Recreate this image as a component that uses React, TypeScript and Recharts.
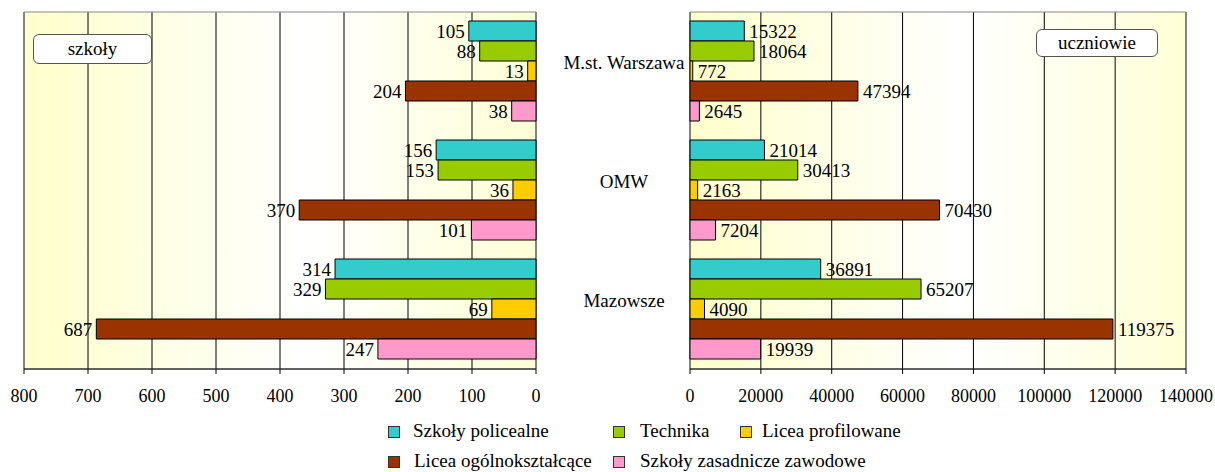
import { BarChart, Bar, XAxis, YAxis, CartesianGrid, LabelList, ReferenceArea } from "recharts";

const categories = ["M.st. Warszawa", "OMW", "Mazowsze"];

// szkoły
const schoolsPolicealne = [105, 156, 314];
const schoolsTechnika = [88, 153, 329];
const schoolsProfilowane = [13, 36, 69];
const schoolsOgolno = [204, 370, 687];
const schoolsZasadnicze = [38, 101, 247];

// uczniowie
const studentsPolicealne = [15322, 21014, 36891];
const studentsTechnika = [18064, 30413, 65207];
const studentsProfilowane = [772, 2163, 4090];
const studentsOgolno = [47394, 70430, 119375];
const studentsZasadnicze = [2645, 7204, 19939];

const schoolTicks = [0, 100, 200, 300, 400, 500, 600, 700, 800];
const studentTicks = [0, 20000, 40000, 60000, 80000, 100000, 120000, 140000];

const seriesNames = [
  "Szkoły policealne",
  "Technika",
  "Licea profilowane",
  "Licea ogólnokształcące",
  "Szkoły zasadnicze zawodowe",
];
const seriesKeys = ["policealne", "technika", "profilowane", "ogolno", "zasadnicze"];
const seriesColors = ["#33CCCC", "#99CC00", "#FFCC00", "#993300", "#FF99CC"];

const schoolsData = categories.map((name, i) => ({
  name,
  policealne: schoolsPolicealne[i],
  technika: schoolsTechnika[i],
  profilowane: schoolsProfilowane[i],
  ogolno: schoolsOgolno[i],
  zasadnicze: schoolsZasadnicze[i],
}));

const studentsData = categories.map((name, i) => ({
  name,
  policealne: studentsPolicealne[i],
  technika: studentsTechnika[i],
  profilowane: studentsProfilowane[i],
  ogolno: studentsOgolno[i],
  zasadnicze: studentsZasadnicze[i],
}));

const FONT = "'Liberation Serif', 'Times New Roman', serif";

const leftLabel = (props: any) => {
  const { x, y, width, height, value } = props;
  const left = Math.min(x, x + width);
  return (
    <text x={left - 4} y={y + height / 2} dy="0.35em" textAnchor="end" fontSize={19} fontFamily={FONT} fill="#000">
      {value}
    </text>
  );
};

const rightLabel = (props: any) => {
  const { x, y, width, height, value } = props;
  const right = Math.max(x, x + width);
  return (
    <text x={right + 5} y={y + height / 2} dy="0.35em" textAnchor="start" fontSize={19} fontFamily={FONT} fill="#000">
      {value}
    </text>
  );
};

const CategoryTick = (props: any) => {
  const { y, payload } = props;
  return (
    <text x={64} y={y - 9} dy="0.35em" textAnchor="middle" fontSize={19} fontFamily={FONT} fill="#000">
      {payload.value}
    </text>
  );
};

const tickStyle = { fontSize: 18, fontFamily: FONT, fill: "#000" };

const Gradient = ({ id }: { id: string }) => (
  <defs>
    <linearGradient id={id} x1="0" y1="0" x2="1" y2="0">
      <stop offset="0%" stopColor="#FFFFCC" />
      <stop offset="55%" stopColor="#FFFFFF" />
      <stop offset="100%" stopColor="#FFFFD6" />
    </linearGradient>
  </defs>
);

const renderBars = (label: (p: any) => any) =>
  seriesKeys.map((key, i) => (
    <Bar
      key={key}
      dataKey={key}
      name={seriesNames[i]}
      fill={seriesColors[i]}
      stroke="#000"
      strokeWidth={1}
      isAnimationActive={false}
    >
      <LabelList dataKey={key} content={label} />
    </Bar>
  ));

const boxStyle = {
  position: "absolute" as const,
  background: "#fff",
  border: "1px solid #555",
  borderRadius: 6,
  fontFamily: FONT,
  fontSize: 19,
  textAlign: "center" as const,
  boxSizing: "border-box" as const,
};

export default function App() {
  return (
    <div style={{ position: "relative", width: 1215, height: 472, background: "#fff", fontFamily: FONT }}>
      <style>{`body{margin:0}`}</style>
      <div style={{ position: "absolute", left: 0, top: 0 }}>
        <BarChart
          width={560}
          height={410}
          data={schoolsData}
          layout="vertical"
          margin={{ top: 12, right: 24, left: 24, bottom: 11 }}
          barCategoryGap={9}
          barGap={0}
        >
          <Gradient id="bgLeft" />
          <CartesianGrid horizontal={false} stroke="#000" fill="url(#bgLeft)" fillOpacity={1} />
          <ReferenceArea x1={0} x2={800} fill="none" stroke="#888" strokeWidth={1} />
          <XAxis
            type="number"
            domain={[0, 800]}
            ticks={schoolTicks}
            reversed
            height={30}
            tick={tickStyle}
            tickMargin={15}
            tickSize={5}
            axisLine={{ stroke: "#000" }}
            tickLine={{ stroke: "#000" }}
          />
          <YAxis type="category" dataKey="name" hide />
          {renderBars(leftLabel)}
        </BarChart>
      </div>
      <div style={{ position: "absolute", left: 560, top: 0 }}>
        <BarChart
          width={655}
          height={410}
          data={studentsData}
          layout="vertical"
          margin={{ top: 12, right: 29, left: 0, bottom: 11 }}
          barCategoryGap={9}
          barGap={0}
        >
          <Gradient id="bgRight" />
          <CartesianGrid horizontal={false} stroke="#000" fill="url(#bgRight)" fillOpacity={1} />
          <ReferenceArea x1={0} x2={140000} fill="none" stroke="#888" strokeWidth={1} />
          <XAxis
            type="number"
            domain={[0, 140000]}
            ticks={studentTicks}
            height={30}
            tick={tickStyle}
            tickMargin={15}
            tickSize={5}
            axisLine={{ stroke: "#000" }}
            tickLine={{ stroke: "#000" }}
          />
          <YAxis type="category" dataKey="name" width={130} axisLine={false} tickLine={false} tick={<CategoryTick />} />
          {renderBars(rightLabel)}
        </BarChart>
      </div>

      <div style={{ ...boxStyle, left: 33, top: 34, width: 119, height: 30, lineHeight: "28px" }}>szkoły</div>
      <div style={{ ...boxStyle, left: 1036, top: 29, width: 122, height: 28, lineHeight: "26px" }}>uczniowie</div>

      {seriesNames.map((name, i) => {
        const pos = [
          { left: 388, top: 432, text: 413 },
          { left: 613, top: 432, text: 640 },
          { left: 740, top: 432, text: 762 },
          { left: 388, top: 462, text: 414 },
          { left: 613, top: 462, text: 640 },
        ][i];
        return (
          <div key={name}>
            <div
              style={{
                position: "absolute",
                left: pos.left,
                top: pos.top - 6,
                width: 12,
                height: 12,
                background: seriesColors[i],
                border: "1px solid #333",
                boxSizing: "border-box",
              }}
            />
            <div
              style={{
                position: "absolute",
                left: pos.text,
                top: pos.top - 12,
                fontSize: 19,
                lineHeight: "22px",
                whiteSpace: "nowrap",
                color: "#000",
              }}
            >
              {name}
            </div>
          </div>
        );
      })}
    </div>
  );
}
